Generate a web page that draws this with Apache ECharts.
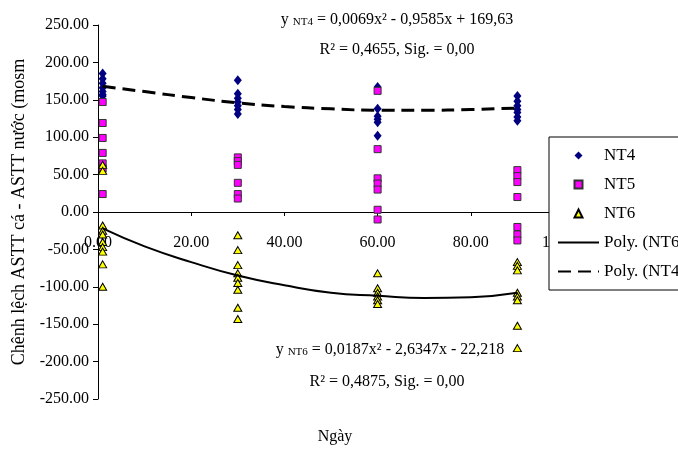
<!DOCTYPE html>
<html><head><meta charset="utf-8">
<script src="https://cdn.jsdelivr.net/npm/echarts@6/dist/echarts.min.js"></script>
<style>html,body{margin:0;padding:0;background:#fff}#c{width:678px;height:450px}</style>
</head><body><div id="c"></div>
<script>
// ---- data ----
const days = [1, 30, 60, 90];
const nt4 = [
  [185, 178, 172, 166, 161, 157, 155],
  [176, 158, 152, 147, 142, 137, 131],
  [167, 138, 128, 124, 120, 102],
  [155, 148, 142, 137, 133, 127, 122]
];
const nt5 = [
  [147, 119, 99, 79, 65, 58, 24],
  [73, 68, 63, 39, 24, 18],
  [162, 84, 45, 38, 30, 3, -10],
  [56, 48, 40, 20, -20, -30, -38]
];
const nt6 = [
  [63, 55, -18, -25, -30, -40, -47, -53, -70, -100],
  [-31, -51, -71, -82, -88, -95, -104, -128, -143],
  [-82, -102, -108, -113, -118, -123],
  [-67, -72, -78, -108, -113, -118, -152, -182]
];
const trendX = [1, 10, 20, 30, 40, 50, 60, 70, 80, 90];
const polyNT4 = [168, 161, 153, 146, 141, 138, 136, 136, 137, 139];
const polyNT6 = [-22, -46, -67, -85, -98, -108, -112, -115, -114, -108];
const seriesNames = ['NT4', 'NT5', 'NT6', 'Poly. (NT6)', 'Poly. (NT4)'];
const yTitle = 'Chênh lệch ASTT cá - ASTT nước (mosm';
const xTitle = 'Ngày';

function pairs(groups) {
  const out = [];
  groups.forEach((g, i) => g.forEach(v => out.push([days[i], v])));
  return out;
}
function zip(xs, ys) { return xs.map((x, i) => [x, ys[i]]); }

const FONT = '"Liberation Serif", "Times New Roman", serif';
const chart = echarts.init(document.getElementById('c'), null, {renderer: 'canvas'});

function pointSeries(name, data, symbol, size, color, border) {
  return {
    name, type: 'line', data, symbol, symbolSize: size,
    lineStyle: {opacity: 0, width: 0},
    itemStyle: {color, borderColor: border, borderWidth: border ? 1 : 0, opacity: 1},
    z: 2, silent: true
  };
}

const Y_MIN = -250, Y_MAX = 250, GRID_TOP = 25, GRID_BOTTOM_PX = 399;
// x axis crosses at y = 0: shift the axis up by the pixel distance from the bottom to the zero line
const zeroOffset = -(GRID_BOTTOM_PX - GRID_TOP) * (0 - Y_MIN) / (Y_MAX - Y_MIN);

chart.setOption({
  animation: false,
  backgroundColor: '#fff',
  textStyle: {fontFamily: FONT, color: '#000'},
  grid: {left: 98, right: 114, top: GRID_TOP, bottom: 450 - GRID_BOTTOM_PX, containLabel: false},
  xAxis: {
    type: 'value', min: 0, max: 100, interval: 20,
    offset: zeroOffset,
    axisLine: {onZero: false, lineStyle: {color: '#000', width: 1}},
    axisTick: {show: true, length: 4, lineStyle: {color: '#000'}},
    axisLabel: {margin: 23, fontSize: 16, fontFamily: FONT, color: '#000',
      formatter: v => v.toFixed(2)},
    splitLine: {show: false}
  },
  yAxis: {
    type: 'value', min: Y_MIN, max: Y_MAX, interval: 50,
    name: yTitle, nameLocation: 'middle', nameGap: 70,
    nameTextStyle: {fontSize: 18, fontFamily: FONT, color: '#000'},
    axisLine: {show: true, onZero: false, lineStyle: {color: '#000', width: 1}},
    axisTick: {show: true, length: 5, lineStyle: {color: '#000'}},
    axisLabel: {margin: 9, fontSize: 16, fontFamily: FONT, color: '#000',
      formatter: v => v.toFixed(2)},
    splitLine: {show: false}
  },
  legend: {
    orient: 'vertical', left: 549, top: 137,
    data: seriesNames.map((n, i) => i < 3 ? n : {name: n, itemStyle: {opacity: 0}}),
    itemWidth: 41, itemHeight: 10, itemGap: 12,
    padding: [10, 12, 10, 8],
    borderColor: '#000', borderWidth: 1, backgroundColor: '#fff',
    textStyle: {fontSize: 17, fontFamily: FONT, color: '#000'},
    selectedMode: false
  },
  series: [
    pointSeries('NT4', pairs(nt4), 'diamond', [8, 10], '#000080', null),
    pointSeries('NT5', pairs(nt5), 'rect', 7, '#FF00FF', '#333'),
    pointSeries('NT6', pairs(nt6), 'triangle', [8, 7], '#FFFF00', '#000'),
    {name: 'Poly. (NT6)', type: 'line', data: zip(trendX, polyNT6), smooth: true,
      symbol: 'none', lineStyle: {color: '#000', width: 2, type: 'solid'}, itemStyle: {color: '#000'}, z: 3, silent: true},
    {name: 'Poly. (NT4)', type: 'line', data: zip(trendX, polyNT4), smooth: true,
      symbol: 'none', lineStyle: {color: '#000', width: 3, type: [13, 7]}, itemStyle: {color: '#000'}, z: 3, silent: true}
  ],
  graphic: [
    {type: 'text', x: 397, y: 20, style: {
      text: '{a|y }{b|NT4}{a| = 0,0069x² - 0,9585x + 169,63}', textAlign: 'center', textVerticalAlign: 'middle',
      rich: {a: {fontSize: 16, fontFamily: FONT, fill: '#000'}, b: {fontSize: 11, fontFamily: FONT, fill: '#000', padding: [5, 0, 0, 0]}}}},
    {type: 'text', x: 397, y: 50, style: {
      text: 'R² = 0,4655, Sig. = 0,00', textAlign: 'center', textVerticalAlign: 'middle',
      font: '16px ' + FONT, fill: '#000'}},
    {type: 'text', x: 390, y: 350, style: {
      text: '{a|y }{b|NT6}{a| = 0,0187x² - 2,6347x - 22,218}', textAlign: 'center', textVerticalAlign: 'middle',
      rich: {a: {fontSize: 16, fontFamily: FONT, fill: '#000'}, b: {fontSize: 11, fontFamily: FONT, fill: '#000', padding: [5, 0, 0, 0]}}}},
    {type: 'text', x: 387, y: 382, style: {
      text: 'R² = 0,4875, Sig. = 0,00', textAlign: 'center', textVerticalAlign: 'middle',
      font: '16px ' + FONT, fill: '#000'}},
    {type: 'text', x: 335, y: 437, style: {
      text: xTitle, textAlign: 'center', textVerticalAlign: 'middle',
      font: '16px ' + FONT, fill: '#000'}}
  ]
});
</script></body></html>
